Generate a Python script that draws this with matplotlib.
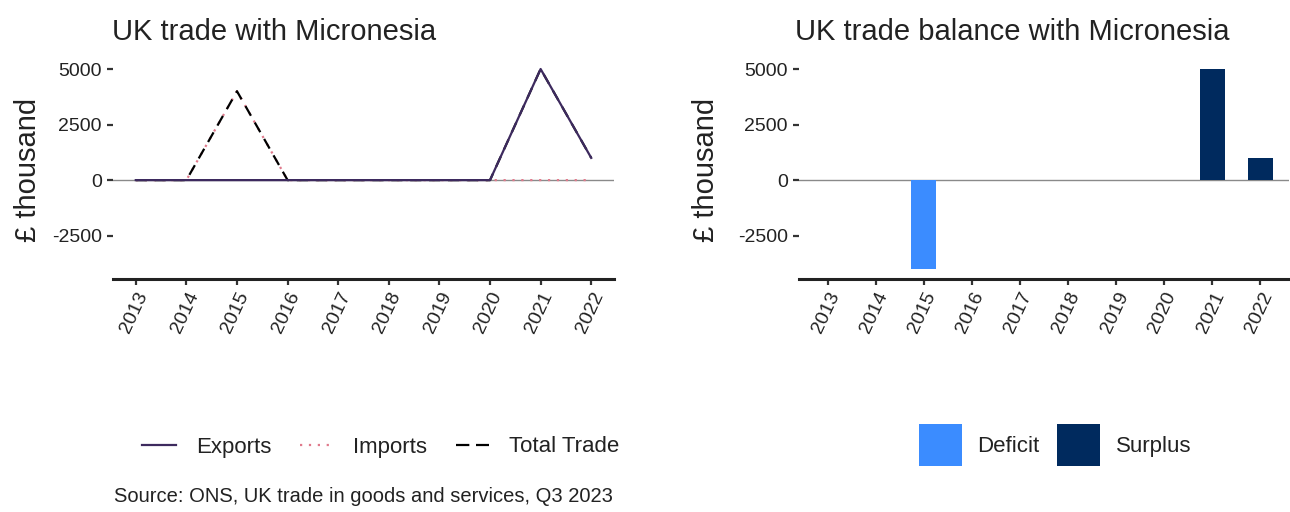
import matplotlib
matplotlib.use("Agg")
import matplotlib.pyplot as plt
from matplotlib.lines import Line2D
from matplotlib.patches import Patch

plt.rcParams['font.family'] = ['Liberation Sans', 'DejaVu Sans']

years = [2013, 2014, 2015, 2016, 2017, 2018, 2019, 2020, 2021, 2022]
exports = [0, 0, 0, 0, 0, 0, 0, 0, 5000, 1000]
imports = [0, 0, 4000, 0, 0, 0, 0, 0, 0, 0]
total_trade = [0, 0, 4000, 0, 0, 0, 0, 0, 5000, 1000]
balance = [0, 0, -4000, 0, 0, 0, 0, 0, 5000, 1000]
yticks = [-2500, 0, 2500, 5000]

W, H = 1290, 512
fig = plt.figure(figsize=(W / 100, H / 100), dpi=100)

def fx(px):
    return px / W

def fy(py):
    return 1 - py / H

ylo, yhi = -4450, 5450
ax_bottom = fy(279)
ax_h = 220 / H

col_exp = '#3d2a5e'
col_imp = '#e07a8c'
col_tot = '#000000'
col_def = '#3b8cff'
col_sur = '#002a5e'
dash = (0, (5, 3.5))
dots = (0, (1, 3))

def style(ax):
    for s in ['top', 'right', 'left']:
        ax.spines[s].set_visible(False)
    ax.spines['bottom'].set_linewidth(2.2)
    ax.spines['bottom'].set_color('#222222')
    ax.set_ylim(ylo, yhi)
    ax.set_yticks(yticks)
    ax.set_yticklabels([str(v) for v in yticks])
    ax.tick_params(axis='y', length=4, width=1.6, color='#333333', pad=4,
                   labelsize=14, labelcolor='#222222')
    ax.tick_params(axis='x', length=4, width=1.6, color='#333333', pad=3,
                   labelsize=14, labelcolor='#222222')
    ax.axhline(0, color='#8a8a8a', lw=1, zorder=1)
    for lab in ax.get_xticklabels():
        lab.set_rotation(65)
        lab.set_ha('right')
        lab.set_va('top')
        lab.set_rotation_mode('anchor')

# Left panel
ax1 = fig.add_axes([fx(113), ax_bottom, 501 / W, ax_h])
ax1.plot(years, imports, color=col_imp, lw=1.6, ls=dots, zorder=2)
ax1.plot(years, total_trade, color=col_tot, lw=1.6, ls=dash, zorder=3)
ax1.plot(years, exports, color=col_exp, lw=1.6, ls='-', zorder=4)
ax1.set_xlim(years[0] - 0.45, years[-1] + 0.45)
ax1.set_xticks(years)
ax1.set_xticklabels([str(y) for y in years])
style(ax1)

# Right panel
ax2 = fig.add_axes([fx(799), ax_bottom, 490 / W, ax_h])
pos = list(range(len(years)))
colors = [col_def if v < 0 else col_sur for v in balance]
ax2.bar(pos, balance, width=0.52, color=colors, zorder=2)
ax2.set_xlim(-0.6, len(years) - 0.4)
ax2.set_xticks(pos)
ax2.set_xticklabels([str(y) for y in years])
style(ax2)

# Titles
fig.text(fx(112), fy(40), 'UK trade with Micronesia', fontsize=21,
         color='#222222', ha='left', va='baseline')
fig.text(fx(795), fy(40), 'UK trade balance with Micronesia', fontsize=21,
         color='#222222', ha='left', va='baseline')

# Y labels
fig.text(fx(28), fy(170), '£ thousand', rotation=90, fontsize=21,
         color='#222222', ha='center', va='center')
fig.text(fx(706), fy(170), '£ thousand', rotation=90, fontsize=21,
         color='#222222', ha='center', va='center')

# Legends
h1 = [Line2D([], [], color=col_exp, lw=1.6, ls='-'),
      Line2D([], [], color=col_imp, lw=1.6, ls=dots),
      Line2D([], [], color=col_tot, lw=1.6, ls=(0, (6, 3)))]
fig.legend(h1, ['Exports', 'Imports', 'Total Trade'], loc='center',
           bbox_to_anchor=(fx(381), fy(447)), ncol=3, frameon=False,
           fontsize=16, handlelength=1.5, handletextpad=0.9,
           columnspacing=1.3, labelcolor='#222222')

h2 = [Patch(facecolor=col_def), Patch(facecolor=col_sur)]
fig.legend(h2, ['Deficit', 'Surplus'], loc='center',
           bbox_to_anchor=(fx(1055), fy(445)), ncol=2, frameon=False,
           fontsize=16, handlelength=1.93, handleheight=2.47,
           handletextpad=0.7, columnspacing=0.8, labelcolor='#222222')

fig.text(fx(114), fy(497), 'Source: ONS, UK trade in goods and services, Q3 2023',
         fontsize=14.5, color='#222222', ha='left', va='center')

fig.savefig('out.png', dpi=100, facecolor='white')
